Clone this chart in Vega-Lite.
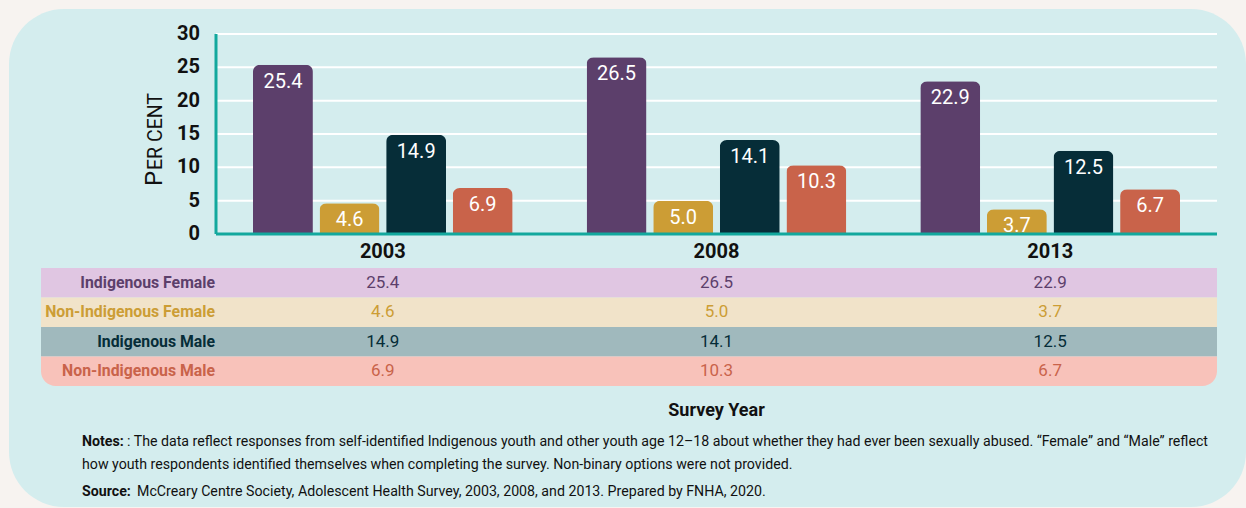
{
  "$schema": "https://vega.github.io/schema/vega-lite/v6.json",
  "width": 1237,
  "height": 498,
  "autosize": {"type": "none"},
  "padding": {"left": 9, "top": 9, "right": 0, "bottom": 1},
  "background": "#f7f3f0",
  "config": {"view": {"fill": "#d4edee", "stroke": null, "cornerRadius": 55}},
  "datasets": {
    "bars": [
      {"year": "2003", "group": "Indigenous Female", "value": 25.4},
      {"year": "2003", "group": "Non-Indigenous Female", "value": 4.6},
      {"year": "2003", "group": "Indigenous Male", "value": 14.9},
      {"year": "2003", "group": "Non-Indigenous Male", "value": 6.9},
      {"year": "2008", "group": "Indigenous Female", "value": 26.5},
      {"year": "2008", "group": "Non-Indigenous Female", "value": 5.0},
      {"year": "2008", "group": "Indigenous Male", "value": 14.1},
      {"year": "2008", "group": "Non-Indigenous Male", "value": 10.3},
      {"year": "2013", "group": "Indigenous Female", "value": 22.9},
      {"year": "2013", "group": "Non-Indigenous Female", "value": 3.7},
      {"year": "2013", "group": "Indigenous Male", "value": 12.5},
      {"year": "2013", "group": "Non-Indigenous Male", "value": 6.7}
    ],
    "groups": [
      {"group": "Indigenous Female"},
      {"group": "Non-Indigenous Female"},
      {"group": "Indigenous Male"},
      {"group": "Non-Indigenous Male"}
    ],
    "ticks": [{"v": 0}, {"v": 5}, {"v": 10}, {"v": 15}, {"v": 20}, {"v": 25}, {"v": 30}],
    "years": [{"year": "2003"}, {"year": "2008"}, {"year": "2013"}]
  },
  "layer": [
    {
      "layer": [
        {
          "data": {"name": "ticks"},
          "transform": [{"filter": "datum.v > 0"}],
          "mark": {"type": "rule", "stroke": "#ffffff", "strokeWidth": 2},
          "encoding": {
            "y": {"field": "v", "type": "quantitative",
              "scale": {"domain": [-40.95, 33.75], "nice": false, "zero": false}, "axis": null},
            "x": {"datum": "2003", "type": "nominal", "bandPosition": 0,
              "scale": {"domain": ["2003", "2008", "2013"], "paddingInner": 0, "paddingOuter": 0.35364, "align": 0.87712}, "axis": null},
            "x2": {"datum": "2013", "bandPosition": 1}
          }
        },
        {
          "data": {"name": "ticks"},
          "mark": {"type": "text", "align": "right", "baseline": "middle", "dx": -16, "font": "Roboto", "fontWeight": "bold", "fontSize": 20, "fill": "#111111"},
          "encoding": {
            "y": {"field": "v", "type": "quantitative",
              "scale": {"domain": [-40.95, 33.75], "nice": false, "zero": false}, "axis": null},
            "x": {"datum": "2003", "type": "nominal", "bandPosition": 0,
              "scale": {"domain": ["2003", "2008", "2013"], "paddingInner": 0, "paddingOuter": 0.35364, "align": 0.87712}, "axis": null},
            "text": {"field": "v", "type": "quantitative"}
          }
        },
        {
          "data": {"name": "bars"},
          "mark": {"type": "bar", "cornerRadiusTopLeft": 7, "cornerRadiusTopRight": 7},
          "encoding": {
            "x": {"field": "year", "type": "nominal",
              "scale": {"domain": ["2003", "2008", "2013"], "paddingInner": 0, "paddingOuter": 0.35364, "align": 0.87712}, "axis": null},
            "xOffset": {"field": "group", "type": "nominal",
              "scale": {"domain": ["Indigenous Female", "Non-Indigenous Female", "Indigenous Male", "Non-Indigenous Male"], "paddingInner": 0.1, "paddingOuter": 0.555}},
            "y": {"field": "value", "type": "quantitative",
              "scale": {"domain": [-40.95, 33.75], "nice": false, "zero": false}, "axis": null},
            "color": {"field": "group", "type": "nominal",
              "scale": {"domain": ["Indigenous Female", "Non-Indigenous Female", "Indigenous Male", "Non-Indigenous Male"],
                "range": ["#5c3f6b", "#cc9d35", "#062d38", "#c9634a"]}, "legend": null}
          }
        },
        {
          "data": {"name": "bars"},
          "mark": {"type": "text", "baseline": "top", "dy": 7, "fill": "#ffffff", "font": "Roboto", "fontSize": 20},
          "encoding": {
            "x": {"field": "year", "type": "nominal",
              "scale": {"domain": ["2003", "2008", "2013"], "paddingInner": 0, "paddingOuter": 0.35364, "align": 0.87712}, "axis": null},
            "xOffset": {"field": "group", "type": "nominal",
              "scale": {"domain": ["Indigenous Female", "Non-Indigenous Female", "Indigenous Male", "Non-Indigenous Male"], "paddingInner": 0.1, "paddingOuter": 0.555}},
            "y": {"field": "value", "type": "quantitative",
              "scale": {"domain": [-40.95, 33.75], "nice": false, "zero": false}, "axis": null},
            "text": {"field": "value", "type": "quantitative", "format": ".1f"}
          }
        },
        {
          "data": {"values": [{}]},
          "mark": {"type": "rule", "stroke": "#12a89d", "strokeWidth": 3},
          "encoding": {
            "y": {"datum": 0, "type": "quantitative",
              "scale": {"domain": [-40.95, 33.75], "nice": false, "zero": false}, "axis": null},
            "x": {"datum": "2003", "type": "nominal", "bandPosition": 0,
              "scale": {"domain": ["2003", "2008", "2013"], "paddingInner": 0, "paddingOuter": 0.35364, "align": 0.87712}, "axis": null},
            "x2": {"datum": "2013", "bandPosition": 1}
          }
        },
        {
          "data": {"values": [{}]},
          "mark": {"type": "rule", "stroke": "#12a89d", "strokeWidth": 3},
          "encoding": {
            "y": {"datum": 0, "type": "quantitative",
              "scale": {"domain": [-40.95, 33.75], "nice": false, "zero": false}, "axis": null},
            "y2": {"datum": 30},
            "x": {"datum": "2003", "type": "nominal", "bandPosition": 0,
              "scale": {"domain": ["2003", "2008", "2013"], "paddingInner": 0, "paddingOuter": 0.35364, "align": 0.87712}, "axis": null}
          }
        },
        {
          "data": {"name": "years"},
          "mark": {"type": "text", "baseline": "middle", "dy": 18, "font": "Roboto", "fontWeight": "bold", "fontSize": 20, "fill": "#111111"},
          "encoding": {
            "y": {"datum": 0, "type": "quantitative",
              "scale": {"domain": [-40.95, 33.75], "nice": false, "zero": false}, "axis": null},
            "x": {"field": "year", "type": "nominal",
              "scale": {"domain": ["2003", "2008", "2013"], "paddingInner": 0, "paddingOuter": 0.35364, "align": 0.87712}, "axis": null},
            "text": {"field": "year", "type": "nominal"}
          }
        },
        {
          "data": {"values": [{}]},
          "mark": {"type": "text", "text": "P", "angle": 270, "align": "left", "baseline": "alphabetic", "dx": -52, "dy": -54, "font": "Roboto", "fontSize": 24, "fill": "#111111"},
          "encoding": {
            "y": {"datum": 15, "type": "quantitative",
              "scale": {"domain": [-40.95, 33.75], "nice": false, "zero": false}, "axis": null},
            "x": {"datum": "2003", "type": "nominal", "bandPosition": 0,
              "scale": {"domain": ["2003", "2008", "2013"], "paddingInner": 0, "paddingOuter": 0.35364, "align": 0.87712}, "axis": null}
          }
        },
        {
          "data": {"values": [{}]},
          "mark": {"type": "text", "text": "ER CENT", "angle": 270, "align": "left", "baseline": "alphabetic", "dx": -36, "dy": -54, "font": "Roboto", "fontSize": 19.5, "fill": "#111111"},
          "encoding": {
            "y": {"datum": 15, "type": "quantitative",
              "scale": {"domain": [-40.95, 33.75], "nice": false, "zero": false}, "axis": null},
            "x": {"datum": "2003", "type": "nominal", "bandPosition": 0,
              "scale": {"domain": ["2003", "2008", "2013"], "paddingInner": 0, "paddingOuter": 0.35364, "align": 0.87712}, "axis": null}
          }
        },
        {
          "data": {"values": [{}]},
          "mark": {"type": "text", "text": "Survey Year", "align": "center", "baseline": "alphabetic", "font": "Roboto", "fontWeight": "bold", "fontSize": 18, "fill": "#111111"},
          "encoding": {
            "y": {"datum": -27.3, "type": "quantitative",
              "scale": {"domain": [-40.95, 33.75], "nice": false, "zero": false}, "axis": null},
            "x": {"datum": "2008", "type": "nominal",
              "scale": {"domain": ["2003", "2008", "2013"], "paddingInner": 0, "paddingOuter": 0.35364, "align": 0.87712}, "axis": null}
          }
        },
        {
          "data": {"values": [{}]},
          "mark": {"type": "text", "text": "Notes:", "align": "left", "baseline": "alphabetic", "dx": -134, "font": "Roboto", "fontWeight": "bold", "fontSize": 14.2, "fill": "#111111"},
          "encoding": {
            "y": {"datum": -31.8, "type": "quantitative",
              "scale": {"domain": [-40.95, 33.75], "nice": false, "zero": false}, "axis": null},
            "x": {"datum": "2003", "type": "nominal", "bandPosition": 0,
              "scale": {"domain": ["2003", "2008", "2013"], "paddingInner": 0, "paddingOuter": 0.35364, "align": 0.87712}, "axis": null}
          }
        },
        {
          "data": {"values": [{}]},
          "mark": {"type": "text", "text": ": The data reflect responses from self-identified Indigenous youth and other youth age 12–18 about whether they had ever been sexually abused. “Female” and “Male” reflect", "align": "left", "baseline": "alphabetic", "dx": -89, "font": "Roboto", "fontSize": 14.2, "fill": "#111111"},
          "encoding": {
            "y": {"datum": -31.8, "type": "quantitative",
              "scale": {"domain": [-40.95, 33.75], "nice": false, "zero": false}, "axis": null},
            "x": {"datum": "2003", "type": "nominal", "bandPosition": 0,
              "scale": {"domain": ["2003", "2008", "2013"], "paddingInner": 0, "paddingOuter": 0.35364, "align": 0.87712}, "axis": null}
          }
        },
        {
          "data": {"values": [{}]},
          "mark": {"type": "text", "text": "how youth respondents identified themselves when completing the survey. Non-binary options were not provided.", "align": "left", "baseline": "alphabetic", "dx": -134, "font": "Roboto", "fontSize": 14.2, "fill": "#111111"},
          "encoding": {
            "y": {"datum": -35.25, "type": "quantitative",
              "scale": {"domain": [-40.95, 33.75], "nice": false, "zero": false}, "axis": null},
            "x": {"datum": "2003", "type": "nominal", "bandPosition": 0,
              "scale": {"domain": ["2003", "2008", "2013"], "paddingInner": 0, "paddingOuter": 0.35364, "align": 0.87712}, "axis": null}
          }
        },
        {
          "data": {"values": [{}]},
          "mark": {"type": "text", "text": "Source:", "align": "left", "baseline": "alphabetic", "dx": -134, "font": "Roboto", "fontWeight": "bold", "fontSize": 14.2, "fill": "#111111"},
          "encoding": {
            "y": {"datum": -39.3, "type": "quantitative",
              "scale": {"domain": [-40.95, 33.75], "nice": false, "zero": false}, "axis": null},
            "x": {"datum": "2003", "type": "nominal", "bandPosition": 0,
              "scale": {"domain": ["2003", "2008", "2013"], "paddingInner": 0, "paddingOuter": 0.35364, "align": 0.87712}, "axis": null}
          }
        },
        {
          "data": {"values": [{}]},
          "mark": {"type": "text", "text": "McCreary Centre Society, Adolescent Health Survey, 2003, 2008, and 2013. Prepared by FNHA, 2020.", "align": "left", "baseline": "alphabetic", "dx": -79, "font": "Roboto", "fontSize": 14.2, "fill": "#111111"},
          "encoding": {
            "y": {"datum": -39.3, "type": "quantitative",
              "scale": {"domain": [-40.95, 33.75], "nice": false, "zero": false}, "axis": null},
            "x": {"datum": "2003", "type": "nominal", "bandPosition": 0,
              "scale": {"domain": ["2003", "2008", "2013"], "paddingInner": 0, "paddingOuter": 0.35364, "align": 0.87712}, "axis": null}
          }
        }
      ]
    },
    {
      "layer": [
        {
          "data": {"name": "groups"},
          "transform": [{"filter": "datum.group !== 'Non-Indigenous Male'"}],
          "mark": {"type": "rect"},
          "encoding": {
            "y": {"field": "group", "type": "nominal",
              "scale": {"domain": ["Indigenous Female", "Non-Indigenous Female", "Indigenous Male", "Non-Indigenous Male"], "range": [259, 377], "paddingInner": 0, "paddingOuter": 0}, "axis": null},
            "x": {"datum": "2003", "type": "nominal", "bandPosition": -0.52447,
              "scale": {"domain": ["2003", "2008", "2013"], "paddingInner": 0, "paddingOuter": 0.35364, "align": 0.87712}, "axis": null},
            "x2": {"datum": "2013", "bandPosition": 1},
            "fill": {"field": "group", "type": "nominal",
              "scale": {"domain": ["Indigenous Female", "Non-Indigenous Female", "Indigenous Male", "Non-Indigenous Male"],
                "range": ["#e0c6e2", "#f1e3c9", "#a0b9bd", "#f8c2ba"]}, "legend": null}
          }
        },
        {
          "data": {"name": "groups"},
          "transform": [{"filter": "datum.group === 'Non-Indigenous Male'"}],
          "mark": {"type": "rect", "cornerRadiusBottomLeft": 16, "cornerRadiusBottomRight": 16},
          "encoding": {
            "y": {"field": "group", "type": "nominal",
              "scale": {"domain": ["Indigenous Female", "Non-Indigenous Female", "Indigenous Male", "Non-Indigenous Male"], "range": [259, 377], "paddingInner": 0, "paddingOuter": 0}, "axis": null},
            "x": {"datum": "2003", "type": "nominal", "bandPosition": -0.52447,
              "scale": {"domain": ["2003", "2008", "2013"], "paddingInner": 0, "paddingOuter": 0.35364, "align": 0.87712}, "axis": null},
            "x2": {"datum": "2013", "bandPosition": 1},
            "fill": {"field": "group", "type": "nominal",
              "scale": {"domain": ["Indigenous Female", "Non-Indigenous Female", "Indigenous Male", "Non-Indigenous Male"],
                "range": ["#e0c6e2", "#f1e3c9", "#a0b9bd", "#f8c2ba"]}, "legend": null}
          }
        },
        {
          "data": {"name": "groups"},
          "mark": {"type": "text", "align": "right", "baseline": "middle", "dx": -1, "font": "Roboto", "fontWeight": "bold", "fontSize": 15.8},
          "encoding": {
            "y": {"field": "group", "type": "nominal",
              "scale": {"domain": ["Indigenous Female", "Non-Indigenous Female", "Indigenous Male", "Non-Indigenous Male"], "range": [259, 377], "paddingInner": 0, "paddingOuter": 0}, "axis": null},
            "x": {"datum": "2003", "type": "nominal", "bandPosition": 0,
              "scale": {"domain": ["2003", "2008", "2013"], "paddingInner": 0, "paddingOuter": 0.35364, "align": 0.87712}, "axis": null},
            "text": {"field": "group", "type": "nominal"},
            "color": {"field": "group", "type": "nominal",
              "scale": {"domain": ["Indigenous Female", "Non-Indigenous Female", "Indigenous Male", "Non-Indigenous Male"],
                "range": ["#5c3f6b", "#cc9d35", "#062d38", "#c9634a"]}, "legend": null}
          }
        },
        {
          "data": {"name": "bars"},
          "mark": {"type": "text", "align": "center", "baseline": "middle", "font": "Roboto", "fontSize": 17},
          "encoding": {
            "y": {"field": "group", "type": "nominal",
              "scale": {"domain": ["Indigenous Female", "Non-Indigenous Female", "Indigenous Male", "Non-Indigenous Male"], "range": [259, 377], "paddingInner": 0, "paddingOuter": 0}, "axis": null},
            "x": {"field": "year", "type": "nominal",
              "scale": {"domain": ["2003", "2008", "2013"], "paddingInner": 0, "paddingOuter": 0.35364, "align": 0.87712}, "axis": null},
            "text": {"field": "value", "type": "quantitative", "format": ".1f"},
            "color": {"field": "group", "type": "nominal",
              "scale": {"domain": ["Indigenous Female", "Non-Indigenous Female", "Indigenous Male", "Non-Indigenous Male"],
                "range": ["#5c3f6b", "#cc9d35", "#062d38", "#c9634a"]}, "legend": null}
          }
        }
      ]
    }
  ],
  "resolve": {"scale": {"y": "independent"}}
}
